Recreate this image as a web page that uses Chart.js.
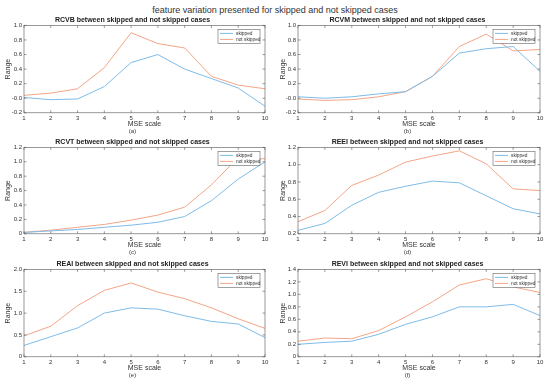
<!DOCTYPE html>
<html>
<head>
<meta charset="utf-8">
<script src="https://cdn.jsdelivr.net/npm/chart.js@4.4.1/dist/chart.umd.min.js"></script>
<style>
  body { margin: 0; background: #fff; width: 550px; height: 385px; position: relative; overflow: hidden;
         font-family: "Liberation Sans", Arial, sans-serif; }
  #main { position: absolute; left: 0; top: 5px; width: 550px; text-align: center; font-size: 9px; color: #333; }
  .box { position: absolute; width: 275px; }
</style>
</head>
<body>
<div id="main">feature variation presented for skipped and not skipped cases</div>
<div class="box" style="left:0;top:15.6px;height:119px"><canvas id="c0"></canvas></div>
<div class="box" style="left:275px;top:15.6px;height:119px"><canvas id="c1"></canvas></div>
<div class="box" style="left:0;top:137.6px;height:118px"><canvas id="c2"></canvas></div>
<div class="box" style="left:275px;top:137.6px;height:118px"><canvas id="c3"></canvas></div>
<div class="box" style="left:0;top:259.6px;height:119px"><canvas id="c4"></canvas></div>
<div class="box" style="left:275px;top:259.6px;height:119px"><canvas id="c5"></canvas></div>
<script>
const mseScale = [1, 2, 3, 4, 5, 6, 7, 8, 9, 10];
const seriesNames = ['skipped', 'not skipped'];

const rcvbSkipped    = [0.01, -0.02, -0.01, 0.16, 0.49, 0.60, 0.40, 0.27, 0.14, -0.11];
const rcvbNotSkipped = [0.04, 0.07, 0.13, 0.42, 0.90, 0.75, 0.69, 0.30, 0.18, 0.13];
const rcvmSkipped    = [0.02, 0.00, 0.02, 0.06, 0.09, 0.30, 0.62, 0.68, 0.71, 0.37];
const rcvmNotSkipped = [-0.01, -0.03, -0.02, 0.02, 0.09, 0.30, 0.71, 0.88, 0.65, 0.67];
const rcvtSkipped    = [0.02, 0.04, 0.06, 0.09, 0.12, 0.16, 0.24, 0.46, 0.76, 1.00];
const rcvtNotSkipped = [0.02, 0.05, 0.09, 0.13, 0.19, 0.26, 0.37, 0.68, 1.06, 1.04];
const reeiSkipped    = [0.24, 0.32, 0.53, 0.68, 0.75, 0.81, 0.79, 0.64, 0.49, 0.43];
const reeiNotSkipped = [0.34, 0.47, 0.76, 0.88, 1.03, 1.10, 1.16, 1.01, 0.72, 0.70];
const reaiSkipped    = [0.26, 0.46, 0.66, 1.00, 1.12, 1.09, 0.94, 0.81, 0.75, 0.44];
const reaiNotSkipped = [0.48, 0.70, 1.17, 1.52, 1.69, 1.48, 1.33, 1.12, 0.87, 0.65];
const reviSkipped    = [0.20, 0.23, 0.25, 0.36, 0.52, 0.64, 0.80, 0.80, 0.84, 0.66];
const reviNotSkipped = [0.25, 0.30, 0.29, 0.42, 0.64, 0.88, 1.15, 1.25, 1.12, 1.03];

const panelTitles = [
  'RCVB between skipped and not skipped cases',
  'RCVM between skipped and not skipped cases',
  'RCVT between skipped and not skipped cases',
  'REEI between skipped and not skipped cases',
  'REAI between skipped and not skipped cases',
  'REVI between skipped and not skipped cases'
];
const panelCaptions = ['(a)', '(b)', '(c)', '(d)', '(e)', '(f)'];
const yMins  = [-0.2, -0.2, 0, 0.2, 0, 0];
const yMaxs  = [1, 1, 1.2, 1.2, 2, 1.4];
const ySteps = [0.2, 0.2, 0.2, 0.2, 0.5, 0.2];

const panelSeries = [
  [rcvbSkipped, rcvbNotSkipped],
  [rcvmSkipped, rcvmNotSkipped],
  [rcvtSkipped, rcvtNotSkipped],
  [reeiSkipped, reeiNotSkipped],
  [reaiSkipped, reaiNotSkipped],
  [reviSkipped, reviNotSkipped]
];

const lineColors = ['rgb(125,188,232)', 'rgb(244,165,135)'];
const textColor = '#333';
const fontFamily = '"Liberation Sans", Arial, sans-serif';

// matlab-ish box with inward ticks plus a boxed legend in the top right corner
const framePlugin = {
  id: 'frame',
  afterDraw(chart) {
    const { ctx, chartArea: a, scales } = chart;
    ctx.save();
    ctx.strokeStyle = '#555';
    ctx.lineWidth = 0.6;
    ctx.strokeRect(a.left, a.top, a.right - a.left, a.bottom - a.top);
    const t = 2.5;
    ctx.beginPath();
    scales.x.ticks.forEach((tk, i) => {
      const px = scales.x.getPixelForTick(i);
      ctx.moveTo(px, a.bottom); ctx.lineTo(px, a.bottom - t);
      ctx.moveTo(px, a.top); ctx.lineTo(px, a.top + t);
    });
    scales.y.ticks.forEach((tk, i) => {
      const py = scales.y.getPixelForTick(i);
      ctx.moveTo(a.left, py); ctx.lineTo(a.left + t, py);
      ctx.moveTo(a.right, py); ctx.lineTo(a.right - t, py);
    });
    ctx.stroke();

    const w = 42, h = 14;
    const lx = a.right - 5 - w, ly = a.top + 4;
    ctx.fillStyle = '#fff';
    ctx.fillRect(lx, ly, w, h);
    ctx.strokeStyle = '#666';
    ctx.strokeRect(lx, ly, w, h);
    ctx.font = '4.8px ' + fontFamily;
    ctx.textBaseline = 'middle';
    chart.data.datasets.forEach((ds, i) => {
      const yy = ly + 4 + i * 6;
      ctx.strokeStyle = ds.borderColor;
      ctx.lineWidth = 1;
      ctx.beginPath();
      ctx.moveTo(lx + 2, yy); ctx.lineTo(lx + 15, yy);
      ctx.stroke();
      ctx.fillStyle = textColor;
      ctx.fillText(ds.label, lx + 18, yy);
    });
    ctx.restore();
  }
};

panelSeries.forEach((series, p) => {
  const leftCol = p % 2 === 0;
  new Chart(document.getElementById('c' + p), {
    type: 'line',
    data: {
      labels: mseScale,
      datasets: series.map((vals, i) => ({
        label: seriesNames[i],
        data: vals,
        borderColor: lineColors[i],
        borderWidth: 1,
        pointRadius: 0,
        tension: 0,
        fill: false
      }))
    },
    options: {
      responsive: true,
      maintainAspectRatio: false,
      animation: false,
      layout: { padding: { left: 0, right: 10, top: 0, bottom: 0 } },
      plugins: {
        legend: { display: false },
        tooltip: { enabled: false },
        title: {
          display: true,
          text: panelTitles[p],
          color: '#222',
          font: { size: 7, weight: 'bold', family: fontFamily },
          padding: { top: 0, bottom: 1 }
        },
        subtitle: {
          display: true,
          position: 'bottom',
          text: panelCaptions[p],
          color: textColor,
          font: { size: 6, family: fontFamily },
          padding: 0
        }
      },
      scales: {
        x: {
          offset: false,
          grid: { display: false, drawTicks: false },
          border: { display: false },
          ticks: { color: textColor, font: { size: 6, family: fontFamily }, padding: 2, maxRotation: 0, autoSkip: false },
          title: { display: true, text: 'MSE scale', color: textColor, padding: 0,
                   font: { size: 7, family: fontFamily } },
          afterFit(scale) { scale.height = 15; }
        },
        y: {
          min: yMins[p],
          max: yMaxs[p],
          grid: { display: false, drawTicks: false },
          border: { display: false },
          ticks: { stepSize: ySteps[p], color: textColor, padding: 2,
                   font: { size: 6, family: fontFamily } },
          title: { display: true, text: 'Range', color: textColor, padding: { top: 4, bottom: 0 },
                   font: { size: 7, family: fontFamily } },
          afterFit(scale) { scale.width = leftCol ? 24 : 23; }
        }
      }
    },
    plugins: [framePlugin]
  });
});
</script>
</body>
</html>
